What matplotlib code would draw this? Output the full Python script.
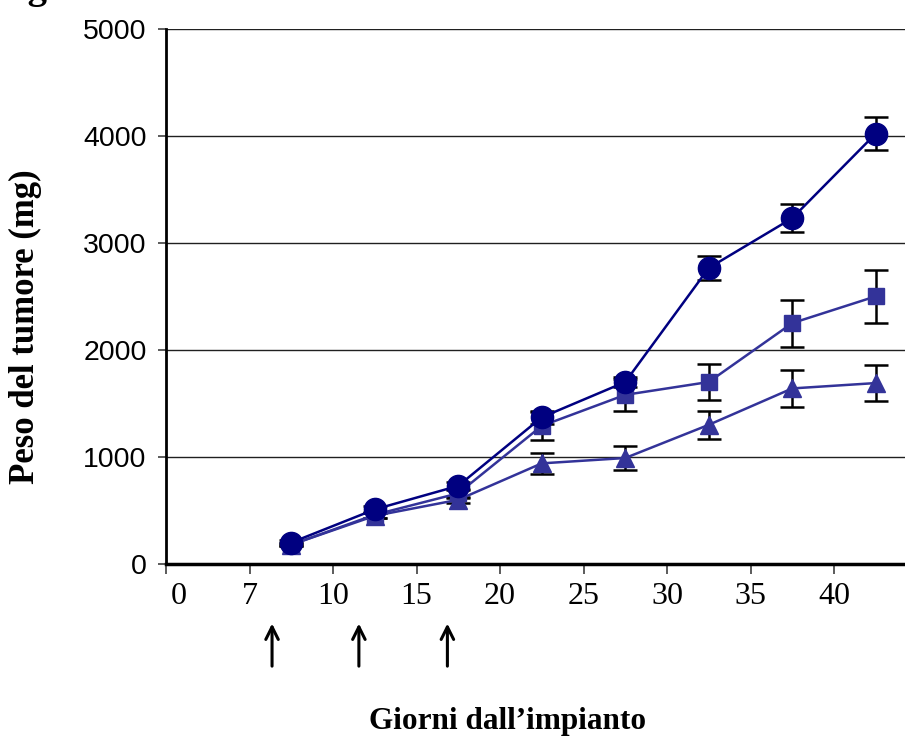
import matplotlib
matplotlib.use("Agg")
import matplotlib.pyplot as plt
from matplotlib.transforms import ScaledTranslation

# Category axis: tick labels (days) and the measurement slots between them
tick_labels = ["0", "7", "10", "15", "20", "25", "30", "35", "40"]
point_pos = [1.5, 2.5, 3.5, 4.5, 5.5, 6.5, 7.5, 8.5]

# Tumour weight (mg) and error per group
circle_vals = [200, 510, 730, 1370, 1700, 2765, 3230, 4020]
circle_err = [20, 30, 40, 60, 50, 110, 130, 155]
square_vals = [180, 460, 660, 1290, 1580, 1700, 2250, 2500]
square_err = [15, 30, 40, 130, 150, 170, 220, 250]
triangle_vals = [180, 450, 600, 940, 990, 1300, 1640, 1690]
triangle_err = [15, 25, 30, 100, 110, 130, 170, 170]

# Treatment days marked with arrows (category-axis positions)
arrow_pos = [1.27, 2.31, 3.37]

W, H = 905, 738
fig = plt.figure(figsize=(W / 100, H / 100), dpi=100)
ax = fig.add_axes([166 / W, 1 - 564 / H, (W - 166) / W, (564 - 28.7) / H])

ax.set_xlim(0, (W - 166) / 83.5)
ax.set_ylim(0, 5000)

# Horizontal gridlines
for yv in [1000, 2000, 3000, 4000, 5000]:
    ax.axhline(yv, color="#202020", lw=1.0, zorder=1)

series = [
    (circle_vals, circle_err, "o", 16, "#000080"),
    (square_vals, square_err, "s", 11, "#333399"),
    (triangle_vals, triangle_err, "^", 13, "#333399"),
]
for vals, err, mk, ms, col in series:
    ax.errorbar(point_pos, vals, yerr=err, fmt="none", ecolor="black",
                elinewidth=1.8, capsize=8.5, capthick=1.8, zorder=2)
for vals, err, mk, ms, col in series[::-1]:
    ax.plot(point_pos, vals, color=col, lw=1.8, marker=mk, ms=ms,
            markeredgecolor=col, markerfacecolor=col, zorder=3)

# Axes styling
for s in ["top", "right"]:
    ax.spines[s].set_visible(False)
ax.spines["left"].set_linewidth(2.0)
ax.spines["bottom"].set_linewidth(2.5)
ax.spines["left"].set_zorder(4)
ax.spines["bottom"].set_zorder(4)

ax.set_yticks([0, 1000, 2000, 3000, 4000, 5000])
ax.set_yticklabels(["0", "1000", "2000", "3000", "4000", "5000"],
                   family="Liberation Sans", fontsize=20.5)
ax.tick_params(axis="y", direction="out", length=6, width=1.2, pad=8,
               color="#404040")

ax.set_xticks(range(len(tick_labels)))
ax.set_xticklabels(tick_labels, family="Liberation Serif", fontsize=23)
ax.tick_params(axis="x", direction="out", length=7, width=1.2, pad=6,
               color="#404040")
first = ax.get_xticklabels()[0]
first.set_transform(first.get_transform() +
                    ScaledTranslation(13 / 100, 0, fig.dpi_scale_trans))

# Treatment arrows under the axis
xt = ax.get_xaxis_transform()
for xp in arrow_pos:
    ax.annotate("", xy=(xp, -0.106), xytext=(xp, -0.196), xycoords=xt,
                textcoords=xt,
                arrowprops=dict(arrowstyle="->,head_length=0.9,head_width=0.45",
                                lw=2.2, color="black"),
                annotation_clip=False)

fig.text(508 / W, 1 - 722 / H, "Giorni dall\u2019impianto",
         family="Liberation Serif", fontweight="bold", fontsize=22.5,
         ha="center", va="center")
fig.text(25 / W, 1 - 327 / H, "Peso del tumore (mg)",
         family="Liberation Serif", fontweight="bold", fontsize=25,
         rotation=90, ha="center", va="center")

# Figure caption running above the page edge
fig.text(47 / W, 1 + 2 / H, "Fig", family="Liberation Serif",
         fontweight="bold", fontsize=28, ha="right", va="baseline")

fig.savefig("out.png", dpi=100)
